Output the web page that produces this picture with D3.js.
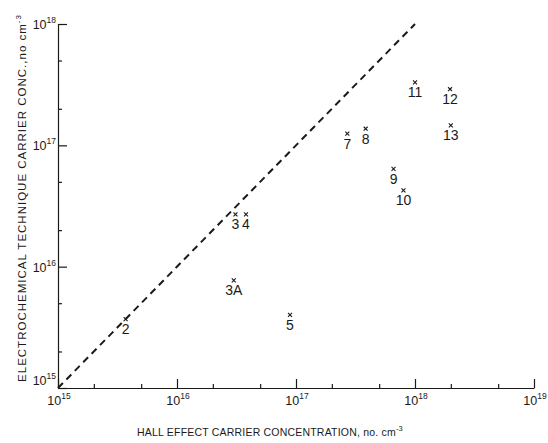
<!DOCTYPE html>
<html>
<head>
<meta charset="utf-8">
<script src="https://cdn.jsdelivr.net/npm/d3@7"></script>
<style>
  body { margin: 0; background: #fff; }
  svg { display: block; }
  text { font-family: "Liberation Sans", "DejaVu Sans", sans-serif; fill: #1a1a1a; }
</style>
</head>
<body>
<svg id="chart" width="548" height="443"></svg>
<script>
// Sample numbers and their measured carrier concentrations (cm^-3)
const sampleLabels = ["2", "3", "4", "3A", "5", "7", "8", "9", "10", "11", "12", "13"];
const hallConc     = [3.7e15, 3.1e16, 3.8e16, 3.0e16, 8.9e16, 2.7e17, 3.85e17, 6.6e17, 8.0e17, 1.0e18, 1.97e18, 2.0e18];
const electroConc  = [3.7e15, 2.7e16, 2.7e16, 7.7e15, 4.0e15, 1.25e17, 1.37e17, 6.4e16, 4.25e16, 3.3e17, 2.9e17, 1.46e17];

// Axis decades and minor tick multipliers
const xTickExponents = [15, 16, 17, 18, 19];
const yTickExponents = [15, 16, 17, 18];
const minorMultipliers = [2, 5];

// Line of equal concentration
const equalityLine = [1e15, 1e18];

const xTitle = "HALL EFFECT CARRIER CONCENTRATION, no. cm";
const yTitle = "ELECTROCHEMICAL  TECHNIQUE CARRIER CONC.,no cm";

const svg = d3.select("#chart");
const ink = "#1a1a1a";

const x = d3.scaleLog().domain([1e15, 1e19]).range([58, 534]);
const y = d3.scaleLog().domain([1e15, 1e18]).range([388, 24]);

const majors = e => e.map(p => Math.pow(10, p));
const minors = e => e.slice(0, -1).flatMap(p => minorMultipliers.map(m => m * Math.pow(10, p)));

// Major and minor ticks point into the plot
const xAxisG = svg.append("g").attr("transform", `translate(0,${y.range()[0]})`);
xAxisG.call(d3.axisBottom(x).tickValues(majors(xTickExponents)).tickSize(-9).tickSizeOuter(0).tickFormat(""));
svg.append("g").attr("transform", `translate(0,${y.range()[0]})`)
  .call(d3.axisBottom(x).tickValues(minors(xTickExponents)).tickSize(-4).tickSizeOuter(0).tickFormat(""))
  .select(".domain").remove();

const yAxisG = svg.append("g").attr("transform", `translate(${x.range()[0]},0)`);
yAxisG.call(d3.axisLeft(y).tickValues(majors(yTickExponents)).tickSize(-9).tickSizeOuter(0).tickFormat(""));
svg.append("g").attr("transform", `translate(${x.range()[0]},0)`)
  .call(d3.axisLeft(y).tickValues(minors(yTickExponents)).tickSize(-4).tickSizeOuter(0).tickFormat(""))
  .select(".domain").remove();

svg.selectAll(".domain, .tick line").attr("stroke", ink).attr("stroke-width", 1.2);

// Power-of-ten tick labels
function powerLabel(sel, exp) {
  sel.append("tspan").text("10").attr("font-size", 12.5);
  sel.append("tspan").text(exp).attr("font-size", 8.5).attr("dy", -6);
}
xTickExponents.forEach(p => {
  svg.append("text")
    .attr("x", x(Math.pow(10, p)) + 1)
    .attr("y", y.range()[0] + 17)
    .attr("text-anchor", "middle")
    .call(powerLabel, p);
});
yTickExponents.forEach(p => {
  const ty = p === 15 ? y(Math.pow(10, p)) - 3 : y(Math.pow(10, p)) + 5;
  svg.append("text")
    .attr("x", x.range()[0] - 2)
    .attr("y", ty)
    .attr("text-anchor", "end")
    .call(powerLabel, p);
});

// Dashed line y = x
svg.append("line")
  .attr("x1", x(equalityLine[0])).attr("y1", y(equalityLine[0]))
  .attr("x2", x(equalityLine[1])).attr("y2", y(equalityLine[1]))
  .attr("stroke", ink).attr("stroke-width", 2)
  .attr("stroke-dasharray", "7,5");

// Sample points: small crosses with sample number beneath
const pts = sampleLabels.map((s, i) => ({ s, hx: hallConc[i], ey: electroConc[i] }));
const cross = d3.symbol(d3.symbolX, 12);
const g = svg.append("g");
g.selectAll("path.pt").data(pts).join("path")
  .attr("class", "pt")
  .attr("transform", d => `translate(${x(d.hx)},${y(d.ey)})`)
  .attr("d", cross)
  .attr("fill", "none").attr("stroke", ink).attr("stroke-width", 1.1);
g.selectAll("text.lbl").data(pts).join("text")
  .attr("class", "lbl")
  .attr("x", d => x(d.hx))
  .attr("y", d => y(d.ey) + 15)
  .attr("text-anchor", "middle")
  .attr("font-size", 14)
  .text(d => d.s);

// Axis titles
const xt = svg.append("text")
  .attr("x", 270).attr("y", 436)
  .attr("text-anchor", "middle")
  .attr("font-size", 10.5)
  .attr("letter-spacing", 0.2);
xt.append("tspan").text(xTitle);
xt.append("tspan").text("-3").attr("font-size", 7.5).attr("dy", -5);

const yt = svg.append("text")
  .attr("transform", "translate(26,198) rotate(-90)")
  .attr("text-anchor", "middle")
  .attr("font-size", 11.5)
  .attr("letter-spacing", 1.0);
yt.append("tspan").text(yTitle);
yt.append("tspan").text("-3").attr("font-size", 8).attr("dy", -5);
</script>
</body>
</html>
